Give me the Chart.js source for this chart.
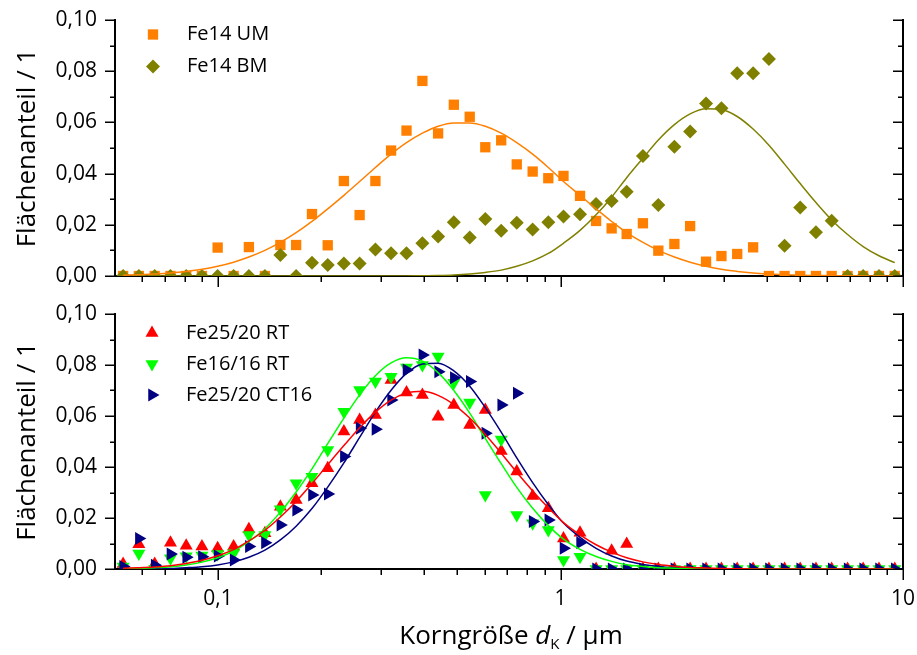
<!DOCTYPE html>
<html>
<head>
<meta charset="utf-8">
<script src="https://cdn.jsdelivr.net/npm/chart.js@4.4.0/dist/chart.umd.min.js"></script>
<style>
  body { margin: 0; background: #fff; width: 917px; height: 655px; position: relative; overflow: hidden; font-family: 'Open Sans', sans-serif; }
  canvas { position: absolute; left: 0; }
  #top { top: 0; }
  #bottom { top: 300px; }
  #xtitle { position: absolute; left: 311px; width: 400px; top: 616px; text-align: center; font-size: 26px; line-height: 36px; color: #000; white-space: nowrap; }
  #xtitle sub { font-size: 15px; vertical-align: -5px; line-height: 0; }
</style>
</head>
<body>
<canvas id="top" width="917" height="300"></canvas>
<canvas id="bottom" width="917" height="355"></canvas>
<div id="xtitle">Korngröße <i>d</i><sub>K</sub> / µm</div>
<script>
// grain size classes (µm), same for every sample
const sizes = [0.0528, 0.0587, 0.0653, 0.0726, 0.0807, 0.0897, 0.0997, 0.111, 0.123, 0.137,
  0.152, 0.169, 0.188, 0.209, 0.233, 0.259, 0.288, 0.320, 0.355, 0.395,
  0.439, 0.488, 0.543, 0.603, 0.671, 0.745, 0.829, 0.921, 1.02, 1.14,
  1.27, 1.41, 1.56, 1.74, 1.93, 2.15, 2.39, 2.66, 2.95, 3.28,
  3.65, 4.06, 4.51, 5.01, 5.57, 6.19, 6.89, 7.65, 8.51, 9.46];

// top panel
const fe14UM = [0, 0, 0, 0, 0, 0, 0.0111, 0, 0.0113, 0,
  0.0121, 0.0121, 0.0242, 0.0120, 0.0371, 0.0238, 0.0371, 0.0490, 0.0568, 0.0762,
  0.0557, 0.0669, 0.0622, 0.0503, 0.0530, 0.0436, 0.0408, 0.0382, 0.0391, 0.0313,
  0.0215, 0.0186, 0.0164, 0.0206, 0.0099, 0.0125, 0.0195, 0.0056, 0.0078, 0.0086,
  0.0112, 0, 0, 0, 0, 0, 0, 0, 0, 0];
const fe14BM = [0, 0, 0, 0, 0, 0, 0, 0, 0, 0,
  0.0082, 0, 0.0052, 0.0043, 0.0049, 0.0049, 0.0104, 0.0089, 0.0089, 0.0128,
  0.0154, 0.0210, 0.0150, 0.0223, 0.0177, 0.0208, 0.0182, 0.0210, 0.0232, 0.0241,
  0.0281, 0.0293, 0.0329, 0.0469, 0.0277, 0.0505, 0.0564, 0.0674, 0.0655, 0.0792,
  0.0792, 0.0848, 0.0118, 0.0268, 0.0171, 0.0216, 0, 0, 0, 0];
const fe14UMFit = [0.0003, 0.0005, 0.0008, 0.0012, 0.0018, 0.0026, 0.0038, 0.0054, 0.0074, 0.0100,
  0.0131, 0.0169, 0.0213, 0.0262, 0.0315, 0.0369, 0.0424, 0.0476, 0.0521, 0.0558,
  0.0585, 0.0598, 0.0598, 0.0585, 0.0558, 0.0521, 0.0476, 0.0424, 0.0369, 0.0315,
  0.0262, 0.0213, 0.0169, 0.0131, 0.0100, 0.0074, 0.0054, 0.0038, 0.0026, 0.0018,
  0.0012, 0.0008, 0.0005, 0.0003, 0.0002, 0.0001, 0.0001, 0, 0, 0];
const fe14BMFit = [0, 0, 0, 0, 0, 0, 0, 0, 0, 0,
  0, 0, 0, 0, 0, 0, 0, 0, 0, 0.0001,
  0.0002, 0.0004, 0.0008, 0.0014, 0.0023, 0.0038, 0.0059, 0.0088, 0.0128, 0.0178,
  0.0239, 0.0308, 0.0384, 0.0460, 0.0531, 0.0591, 0.0633, 0.0653, 0.0650, 0.0623,
  0.0574, 0.0511, 0.0437, 0.0361, 0.0287, 0.0219, 0.0162, 0.0115, 0.0079, 0.0052];

// bottom panel
const fe25RT = [0.002, 0.0097, 0.002, 0.0103, 0.0091, 0.0088, 0.0081, 0.0088, 0.0156, 0.0140,
  0.0244, 0.0271, 0.0336, 0.0395, 0.0539, 0.0584, 0.0604, 0.0741, 0.0692, 0.0682,
  0.0597, 0.0643, 0.0565, 0.0624, 0.0463, 0.0382, 0.0286, 0.0238, 0.0120, 0.0142,
  0, 0.0072, 0.0098, 0, 0, 0, 0, 0, 0, 0,
  0, 0, 0, 0, 0, 0, 0, 0, 0, 0];
const fe16RT = [0.001, 0.0061, 0, 0.0042, 0.0050, 0.0053, 0.0059, 0.0062, 0.0133, 0.0133,
  0.0234, 0.0336, 0.0362, 0.0467, 0.0617, 0.0702, 0.0735, 0.0754, 0.0790, 0.0800,
  0.0833, 0.0730, 0.0653, 0.0290, 0.0508, 0.0212, 0.0179, 0.0153, 0.0035, 0.0048,
  0, 0, 0, 0, 0, 0, 0, 0, 0, 0,
  0, 0, 0, 0, 0, 0, 0, 0, 0, 0];
const fe25CT16 = [0.001, 0.0120, 0.0015, 0.0059, 0.0046, 0.0048, 0.0051, 0.0035, 0.0088, 0.0103,
  0.0173, 0.0231, 0.0290, 0.0294, 0.0441, 0.0552, 0.0548, 0.0663, 0.0780, 0.0839,
  0.0774, 0.0750, 0.0735, 0.0532, 0.0643, 0.0689, 0.0186, 0.0192, 0.0081, 0.0103,
  0, 0, 0, 0, 0, 0, 0, 0, 0, 0,
  0, 0, 0, 0, 0, 0, 0, 0, 0, 0];
const fe25RTFit = [0.0003, 0.0005, 0.0008, 0.0013, 0.0022, 0.0034, 0.0052, 0.0076, 0.0110, 0.0152,
  0.0204, 0.0265, 0.0335, 0.0409, 0.0484, 0.0554, 0.0615, 0.0662, 0.0690, 0.0697,
  0.0681, 0.0645, 0.0592, 0.0527, 0.0454, 0.0379, 0.0306, 0.0240, 0.0182, 0.0134,
  0.0095, 0.0066, 0.0044, 0.0028, 0.0018, 0.0011, 0.0006, 0.0004, 0.0002, 0.0001,
  0, 0, 0, 0, 0, 0, 0, 0, 0, 0];
const fe16RTFit = [0.0001, 0.0002, 0.0005, 0.0009, 0.0016, 0.0027, 0.0044, 0.0070, 0.0108, 0.0158,
  0.0223, 0.0302, 0.0393, 0.0492, 0.0592, 0.0683, 0.0758, 0.0808, 0.0828, 0.0815,
  0.0770, 0.0700, 0.0611, 0.0512, 0.0413, 0.0320, 0.0238, 0.0170, 0.0117, 0.0077,
  0.0049, 0.0030, 0.0017, 0.0010, 0.0005, 0.0003, 0.0001, 0, 0, 0,
  0, 0, 0, 0, 0, 0, 0, 0, 0, 0];
const fe25CT16Fit = [0, 0.0001, 0.0001, 0.0002, 0.0005, 0.0009, 0.0016, 0.0028, 0.0046, 0.0074,
  0.0114, 0.0168, 0.0237, 0.0321, 0.0416, 0.0516, 0.0615, 0.0701, 0.0767, 0.0804,
  0.0807, 0.0777, 0.0717, 0.0633, 0.0537, 0.0436, 0.0339, 0.0253, 0.0180, 0.0124,
  0.0081, 0.0051, 0.0031, 0.0018, 0.0010, 0.0005, 0.0003, 0.0001, 0, 0,
  0, 0, 0, 0, 0, 0, 0, 0, 0, 0];

// axis ticks
const xLabels = [0.1, 1, 10];
const xMinor = [0.06, 0.07, 0.08, 0.09, 0.2, 0.3, 0.4, 0.5, 0.6, 0.7, 0.8, 0.9, 2, 3, 4, 5, 6, 7, 8, 9];
const yTicks = [0, 0.01, 0.02, 0.03, 0.04, 0.05, 0.06, 0.07, 0.08, 0.09, 0.1];

Chart.defaults.font.family = "'Open Sans', sans-serif";
Chart.defaults.color = '#000';

const pts = ys => sizes.map((x, i) => ({ x, y: ys[i] }));

function marks(label, ys, color, style, rot, r, order) {
  return {
    type: 'scatter', label, data: pts(ys),
    backgroundColor: color, borderColor: color,
    pointStyle: style, pointRotation: rot, pointRadius: r, pointHoverRadius: r,
    pointBorderWidth: 0, clip: 0, order, inLegend: true
  };
}

function fit(ys, color) {
  return {
    type: 'line', data: pts(ys), borderColor: color, borderWidth: 1.5,
    pointRadius: 0, cubicInterpolationMode: 'monotone', fill: false, order: 0
  };
}

// tick marks: outward on left and bottom, inward on the right
const tickMarks = {
  id: 'tickMarks',
  afterDraw(chart) {
    const { ctx, chartArea: a, scales } = chart;
    ctx.save();
    ctx.strokeStyle = '#000';
    ctx.lineWidth = 1.5;
    ctx.beginPath();
    xLabels.concat(xMinor).forEach(v => {
      const px = Math.round(scales.x.getPixelForValue(v)) + 0.25;
      const len = xLabels.includes(v) ? 11 : 6;
      ctx.moveTo(px, a.bottom);
      ctx.lineTo(px, a.bottom + len);
    });
    yTicks.forEach((v, i) => {
      const py = Math.round(scales.y.getPixelForValue(v)) + 0.25;
      const len = i % 2 === 0 ? 10 : 5;
      ctx.moveTo(a.left, py);
      ctx.lineTo(a.left - len, py);
      ctx.moveTo(a.right, py);
      ctx.lineTo(a.right - len, py);
    });
    ctx.stroke();
    ctx.restore();
  }
};

// legend drawn inside the plot area, top left
const inlineLegend = {
  id: 'inlineLegend',
  afterDraw(chart, args, opts) {
    const ctx = chart.ctx;
    ctx.save();
    ctx.font = "20px 'Open Sans'";
    ctx.textBaseline = 'middle';
    let n = 0;
    chart.data.datasets.forEach(ds => {
      if (!ds.inLegend) return;
      const y = opts.y0 + n * opts.step;
      ctx.fillStyle = ds.backgroundColor;
      Chart.helpers.drawPoint(ctx, { pointStyle: ds.pointStyle, rotation: ds.pointRotation, radius: ds.pointRadius, borderWidth: 0 }, opts.markerX, y);
      ctx.fillStyle = '#000';
      ctx.fillText(ds.label, opts.textX, y);
      n++;
    });
    ctx.restore();
  }
};

function noPad(s) {
  s.paddingTop = 0; s.paddingBottom = 0; s.paddingLeft = 0; s.paddingRight = 0;
}

function makeChart(id, datasets, cfg) {
  const border = { display: true, color: '#000', width: 2 };
  return new Chart(document.getElementById(id), {
    type: 'scatter',
    data: { datasets },
    options: {
      responsive: false,
      animation: false,
      events: [],
      layout: { autoPadding: false, padding: { top: cfg.top, left: 0, right: 0, bottom: 0 } },
      plugins: { legend: { display: false }, tooltip: { enabled: false }, inlineLegend: cfg.legend },
      scales: {
        x: {
          type: 'logarithmic', min: 0.05, max: 10, position: 'bottom',
          grid: { display: false, drawTicks: false }, border,
          afterBuildTicks: s => { s.ticks = xLabels.map(v => ({ value: v, major: true })); },
          afterFit: s => { s.height = cfg.xh; noPad(s); },
          ticks: {
            display: cfg.xTickLabels, padding: 17, autoSkip: false, maxRotation: 0,
            font: { size: 21 }, callback: v => String(v).replace('.', ',')
          }
        },
        y: {
          min: 0, max: 0.1, position: 'left',
          grid: { display: false, drawTicks: false }, border,
          afterFit: s => { s.width = 115; noPad(s); },
          ticks: { stepSize: 0.02, padding: 18, font: { size: 21 }, callback: v => v.toFixed(2).replace('.', ',') },
          title: { display: true, text: 'Flächenanteil / 1', font: { size: 26 }, padding: { top: 12, bottom: 0 } }
        },
        y2: {
          min: 0, max: 0.1, position: 'right',
          grid: { display: false, drawTicks: false }, border,
          ticks: { display: false },
          afterFit: s => { s.width = 14; noPad(s); }
        }
      }
    },
    plugins: [tickMarks, inlineLegend]
  });
}

function draw() {
  makeChart('top', [
    fit(fe14UMFit, '#FF8000'),
    fit(fe14BMFit, '#808000'),
    marks('Fe14 UM', fe14UM, '#FF8000', 'rect', 0, 7.3, 2),
    marks('Fe14 BM', fe14BM, '#808000', 'rectRot', 0, 7, 1)
  ], { top: 20, xh: 24, xTickLabels: false, legend: { markerX: 153, textX: 187, y0: 34.5, step: 32 } });

  makeChart('bottom', [
    fit(fe25RTFit, '#FF0000'),
    fit(fe16RTFit, '#00FF00'),
    fit(fe25CT16Fit, '#000080'),
    marks('Fe25/20 RT', fe25RT, '#FF0000', 'triangle', 0, 7.5, 3),
    marks('Fe16/16 RT', fe16RT, '#00FF00', 'triangle', 180, 7.5, 2),
    marks('Fe25/20 CT16', fe25CT16, '#000080', 'triangle', 90, 7.5, 1)
  ], { top: 14, xh: 86, xTickLabels: true, legend: { markerX: 152, textX: 186, y0: 33, step: 31 } });
}

document.fonts.load("20px 'Open Sans'").then(draw, draw);
</script>
</body>
</html>
